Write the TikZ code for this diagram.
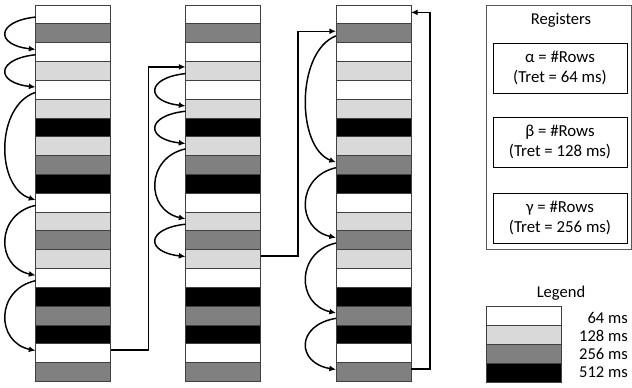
\documentclass[tikz,border=0pt]{standalone}
\usepackage{fontspec}
\setmainfont{Carlito}
\usetikzlibrary{arrows.meta}
\definecolor{rw}{HTML}{FFFFFF}
\definecolor{rl}{HTML}{D9D9D9}
\definecolor{rd}{HTML}{808080}
\definecolor{rb}{HTML}{000000}
\tikzset{
  rowbox/.style={draw=black!75, line width=0.7pt, minimum width=56.25pt, minimum height=14.12pt, inner sep=0pt, outer sep=0pt},
  legbox/.style={draw=black!75, line width=0.7pt, minimum width=56.25pt, minimum height=14.25pt, inner sep=0pt, outer sep=0pt},
  conn/.style={line width=1.1pt, -{Latex[length=5pt,width=4.5pt]}},
  regouter/.style={draw=black!65, line width=0.7pt, minimum width=108.75pt, minimum height=183pt, inner sep=0pt},
  reginner/.style={draw=black, line width=0.7pt, minimum width=100.5pt, minimum height=37.5pt, inner sep=0pt, align=center, font=\fontsize{12.6}{15}\selectfont},
  lbl/.style={font=\fontsize{12.4}{14}\selectfont, inner sep=0pt},
}
\begin{document}
\begin{tikzpicture}[x=0.75pt,y=-0.75pt]
\useasboundingbox (0,0) rectangle (632,388);
% columns
\foreach \c/\cx in {1/73,2/223,3/373.5}{
  \foreach \col [count=\i from 0] in {rw,rd,rw,rl,rw,rl,rb,rl,rd,rb,rw,rl,rd,rl,rw,rb,rd,rb,rw,rd}{
    \node[rowbox, fill=\col] (c\c-\i) at (\cx,{5+(\i+0.5)*18.83}) {};
  }
}
% curved arrows
\foreach \c/\a/\b in {1/0/2,1/2/4,1/4/10,1/10/14,1/14/18,2/3/5,2/5/7,2/7/11,2/11/13,3/1/8,3/8/12,3/12/16,3/16/19}{
  \pgfmathsetmacro{\k}{2.2*(\b-\a)}
  \draw[conn] ([yshift=-2pt]c\c-\a.west) .. controls +(-40,\k) and +(-40,-\k) .. ([yshift=2pt]c\c-\b.west);
}
% orthogonal connectors
\draw[conn] ([yshift=2.5pt]c1-18.east) -- ++(38,0) |- ([yshift=3pt]c2-3.west);
\draw[conn] ([yshift=2.5pt]c2-13.east) -- ++(37.5,0) |- ([yshift=1.5pt]c3-1.west);
\draw[conn] ([yshift=2.5pt]c3-19.east) -- ++(19,0) |- ([yshift=1.5pt]c3-0.east);
% registers
\node[regouter] (reg) at (558.5,127) {};
\node[lbl] (regtitle) at (561,20) {Registers};
\node[reginner] (ra) at (560,68) {α = \#Rows\\(Tret = 64 ms)};
\node[reginner] (rbeta) at (560,142) {β = \#Rows\\(Tret = 128 ms)};
\node[reginner] (rg) at (560,218) {γ = \#Rows\\(Tret = 256 ms)};
% legend
\node[lbl] (legtitle) at (561,293) {Legend};
\node[legbox, fill=rw] (l1) at (523.5,315.5) {};
\node[legbox, fill=rl] (l2) at (523.5,334.5) {};
\node[legbox, fill=rd] (l3) at (523.5,353.5) {};
\node[legbox, fill=rb] (l4) at (523.5,372.5) {};
\node[lbl, anchor=east] (t1) at (628,318) {64 ms};
\node[lbl, anchor=east] (t2) at (628,335.5) {128 ms};
\node[lbl, anchor=east] (t3) at (628,353.5) {256 ms};
\node[lbl, anchor=east] (t4) at (628,372) {512 ms};
\end{tikzpicture}
\end{document}
